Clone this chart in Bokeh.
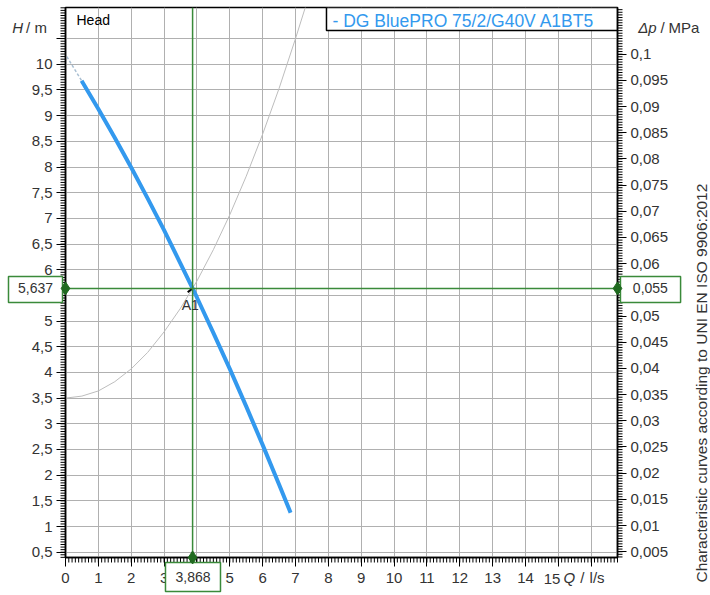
from bokeh.plotting import figure
from bokeh.models import Range1d, LinearAxis, FixedTicker, CustomJSTickFormatter, Span
from bokeh.embed import file_html
from bokeh.resources import INLINE
from bokeh.core.properties import value

# ---------------- data ----------------
pump_q = [0.49, 1.0, 1.5, 2.0, 2.5, 3.0, 3.5, 3.868, 4.0, 4.5, 5.0, 5.5, 6.0, 6.5, 6.85]
pump_h = [9.68, 9.13, 8.57, 7.99, 7.39, 6.77, 6.12, 5.637, 5.46, 4.77, 4.07, 3.34, 2.59, 1.82, 1.27]
ext_q = [0.04, 0.49]
ext_h = [10.15, 9.68]
sys_q = [0.0, 0.5, 1.0, 1.5, 2.0, 2.5, 3.0, 3.5, 4.0, 4.5, 5.0, 5.5, 6.0, 6.5, 7.0, 7.3]
sys_h = [3.50, 3.54, 3.64, 3.82, 4.07, 4.39, 4.79, 5.25, 5.78, 6.39, 7.07, 7.82, 8.64, 9.53, 10.50, 11.11]
duty_q = 3.868
duty_h = 5.637
duty_q_text = "3,868"
duty_h_text = "5,637"
duty_dp_text = "0,055"
duty_name = "A1"
x_ticks = list(range(0, 17))
x_minor = [round(0.1 * i, 1) for i in range(0, 169)]
h_ticks = [0.5 * i for i in range(1, 22)]
h_minor = [round(0.05 * i, 2) for i in range(8, 223)]
dp_ticks = [round(0.005 * i, 3) for i in range(1, 21)]
dp_minor = [round(0.0005 * i, 4) for i in range(8, 218)]
MPA_PER_M = 0.00980665
series_name = "- DG BluePRO 75/2/G40V A1BT5"
note = "Characteristic curves according to UNI EN ISO 9906:2012"

# ---------------- figure ----------------
XMIN, XMAX = 0.0, 16.8
YMIN, YMAX = 0.397, 11.106
FONT = "Liberation Sans"
GREEN = "#3a8a3a"
DKGREEN = "#1f6a1f"
TXT = "#333333"
BLUE = "#3399ee"
PX_X = (XMAX - XMIN) / 552.0   # data units per screen pixel
PX_Y = (YMAX - YMIN) / 550.0
MINOR_LEN = 5

p = figure(width=710, height=595, x_range=Range1d(XMIN, XMAX), y_range=Range1d(YMIN, YMAX),
           output_backend="svg", toolbar_location=None,
           min_border_left=65, min_border_right=93, min_border_top=7, min_border_bottom=38)
p.extra_y_ranges = {"mpa": Range1d(YMIN * MPA_PER_M, YMAX * MPA_PER_M)}
ax_r = LinearAxis(y_range_name="mpa")
p.add_layout(ax_r, "right")

p.background_fill_color = "white"
p.border_fill_color = "white"
p.outline_line_color = "black"
p.outline_line_width = 1.5


def style_axis(ax, major, code, standoff):
    ax.ticker = FixedTicker(ticks=major)
    ax.formatter = CustomJSTickFormatter(code=code)
    ax.axis_line_color = "black"
    ax.axis_line_width = 1.5
    ax.major_tick_line_color = "black"
    ax.major_tick_line_width = 1
    ax.major_tick_out = 9
    ax.major_tick_in = 0
    ax.minor_tick_out = 0
    ax.minor_tick_in = 0
    ax.major_label_text_font = FONT
    ax.major_label_text_font_size = "15px"
    ax.major_label_text_color = TXT
    ax.major_label_standoff = standoff


style_axis(p.xaxis[0], x_ticks, "if (tick > 14.5) return ''; return tick.toFixed(0);", 6)
style_axis(p.yaxis[0], h_ticks,
           "if (tick > 10.2) return ''; let s = tick.toFixed(1); if (s.endsWith('.0')) s = s.slice(0, -2); return s.replace('.', ',');", 4)
style_axis(ax_r, dp_ticks,
           "let s = tick.toFixed(3).replace(/0+$/, '').replace(/\\.$/, ''); return s.replace('.', ',');", 4)

p.xgrid.ticker = FixedTicker(ticks=x_ticks)
p.ygrid.ticker = FixedTicker(ticks=h_ticks)
for g in (p.xgrid, p.ygrid):
    g.grid_line_color = "#b0b0b0"
    g.grid_line_width = 1

# minor tick combs (drawn outside the frame)
p.segment(x0=x_minor, y0=[YMIN] * len(x_minor), x1=x_minor,
          y1=[YMIN - MINOR_LEN * PX_Y] * len(x_minor), line_color="black", line_width=1,
          level="overlay")
p.segment(x0=[XMIN] * len(h_minor), y0=h_minor, x1=[XMIN - MINOR_LEN * PX_X] * len(h_minor),
          y1=h_minor, line_color="black", line_width=1, level="overlay")
p.segment(x0=[XMAX] * len(dp_minor), y0=dp_minor, x1=[XMAX + MINOR_LEN * PX_X] * len(dp_minor),
          y1=dp_minor, line_color="black", line_width=1, level="overlay", y_range_name="mpa")


def txt(x, y, s, size="14px", italic=False, align="left", angle=0, color=TXT):
    p.text(x=[x], y=[y], text=[s], text_font=value(FONT), text_font_size=value(size),
           text_font_style=value("italic" if italic else "normal"), text_color=color,
           text_align=value(align), text_baseline=value("middle"), angle=angle,
           angle_units="deg", level="overlay")


# ---------------- curves ----------------
p.line(sys_q, sys_h, line_color="#bdbdbd", line_width=1)
p.line(ext_q, ext_h, line_color="#a9bfd2", line_width=1.5, line_dash="3 2")
p.line(pump_q, pump_h, line_color=BLUE, line_width=4)

# duty point cross-hair
p.add_layout(Span(location=duty_q, dimension="height", line_color=GREEN, line_width=1.5))
p.add_layout(Span(location=duty_h, dimension="width", line_color=GREEN, line_width=1.5))
p.segment(x0=[3.72], y0=[5.56], x1=[3.84], y1=[5.625], line_color="black", line_width=2)
txt(duty_q - 0.07, 5.323, duty_name, align="center")

# legend box
p.quad(left=[7.943], right=[XMAX], top=[YMAX], bottom=[10.658], fill_color="white",
       line_color="black", line_width=1.5)
txt(8.126, 10.85, series_name, size="17.5px", color=BLUE)
txt(0.335, 10.872, "Head", color="black")


# value boxes outside the frame
def value_box(l, r, t, b, text, cx, cy):
    p.quad(left=[l], right=[r], top=[t], bottom=[b], fill_color="white", line_color=GREEN,
           line_width=1.5, level="overlay")
    txt(cx, cy, text, size="14px", align="center")


# last x tick label sits a little left of its tick, as in the original
txt(14.81, YMIN - 21 * PX_Y, "15", size="15px", align="center")

value_box(-1.735, -0.091, 5.868, 5.362, duty_h_text, -0.913, duty_h)
value_box(16.89, 18.72, 5.868, 5.362, duty_dp_text, 17.8, duty_h)
value_box(3.043, 4.717, 0.300, -0.265, duty_q_text, 3.88, 0.017)

p.scatter([XMIN, XMAX, duty_q], [duty_h, duty_h, YMIN], marker="diamond", size=13,
          fill_color=DKGREEN, line_color=DKGREEN, level="overlay")

# axis titles
txt(-1.622, 10.717, "H", size="15px", italic=True)
txt(-1.20, 10.717, "/", size="15px")
txt(-0.94, 10.717, "m", size="15px")
txt(17.43, 10.711, "Δp", size="15px", italic=True)
txt(18.11, 10.711, "/", size="15px")
txt(18.35, 10.711, "MPa", size="15px")
txt(15.16, 0.013, "Q", size="15px", italic=True)
txt(15.67, 0.013, "/", size="15px")
txt(15.95, 0.013, "l/s", size="15px")
txt(19.36, -0.09, note, size="15.5px", angle=90)

open("out.html", "w").write(file_html(p, INLINE))
